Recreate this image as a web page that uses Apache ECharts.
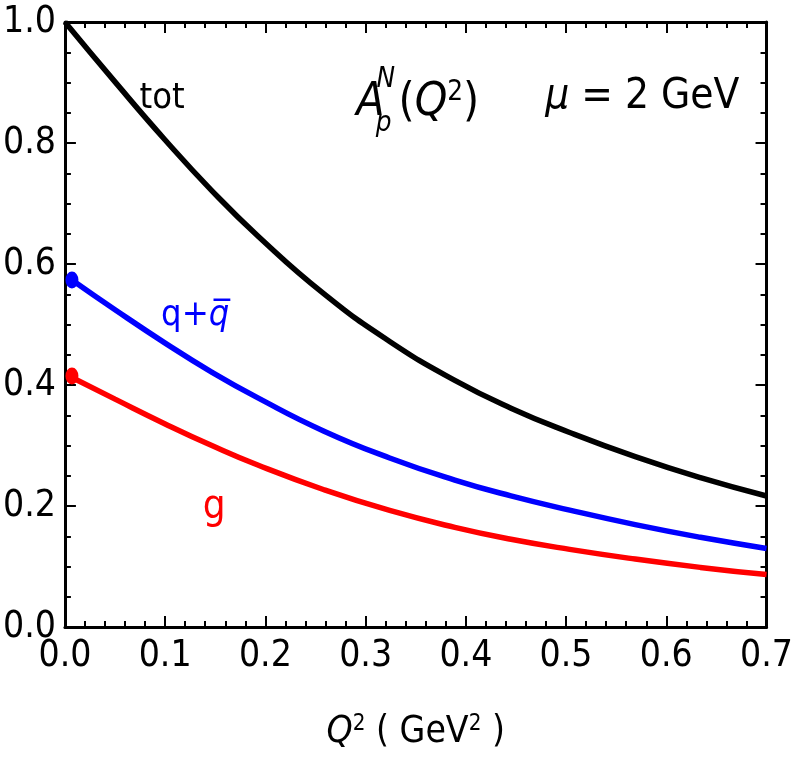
<!DOCTYPE html>
<html><head><meta charset="utf-8">
<script src="https://cdn.jsdelivr.net/npm/echarts@6/dist/echarts.min.js"></script>
<style>html,body{margin:0;padding:0;background:#fff}#c{width:796px;height:763px}</style>
</head><body><div id="c"></div>
<script>
const FONT = "'Liberation Sans Narrow','DejaVu Sans Condensed','Liberation Sans',sans-serif";

// Curves: Q^2 (GeV^2) and A_p^N
const q2Tot   = [0, 0.05, 0.1, 0.146, 0.193, 0.2585, 0.324, 0.389, 0.445, 0.5036, 0.569, 0.634, 0.7];
const aTot    = [1.0, 0.901, 0.805, 0.7222, 0.6456, 0.5506, 0.472, 0.4076, 0.3617, 0.3215, 0.2815, 0.2468, 0.2165];
const q2Quark = [0.007, 0.05, 0.1, 0.146, 0.193, 0.2585, 0.324, 0.389, 0.445, 0.5036, 0.569, 0.634, 0.7];
const aQuark  = [0.5736, 0.5244, 0.4693, 0.4218, 0.3783, 0.3237, 0.2794, 0.2429, 0.2167, 0.1932, 0.1692, 0.1483, 0.1299];
const q2Gluon = [0.007, 0.05, 0.1, 0.146, 0.193, 0.2585, 0.324, 0.389, 0.445, 0.5036, 0.569, 0.634, 0.7];
const aGluon  = [0.4124, 0.3766, 0.3357, 0.3004, 0.2673, 0.2269, 0.1926, 0.1647, 0.145, 0.1283, 0.1123, 0.0985, 0.0866];

// start markers
const startQ2 = 0.007;
const startQuark = 0.5736;
const startGluon = 0.415;

// axis ticks
const xTickLabels = ['0.0','0.1','0.2','0.3','0.4','0.5','0.6','0.7'];
const yTickLabels = ['0.0','0.2','0.4','0.6','0.8','1.0'];

// text annotations (placed in data coordinates)
const noteTot    = [0.097, 0.874];
const noteQuark  = [0.130, 0.515];
const noteGluon  = [0.149, 0.198];
const noteTitle  = [0.352, 0.866];
const noteTitleN = [0.320, 0.904];
const noteTitleP = [0.318, 0.832];
const noteMu     = [0.576, 0.876];

const zip = (a, b) => a.map((v, i) => [v, b[i]]);

const tickStyle = {show: true, inside: true, length: 11, lineStyle: {color: '#000', width: 2}};
const minorStyle = (n) => ({show: true, splitNumber: n, length: 6, lineStyle: {color: '#000', width: 2}});
const lineAx = {show: true, onZero: false, lineStyle: {color: '#000', width: 3}};

const chart = echarts.init(document.getElementById('c'));

function textPoint(pos, text, rich) {
  return {
    type: 'scatter', symbol: 'circle', symbolSize: 1, silent: true, z: 5,
    itemStyle: {color: 'rgba(0,0,0,0)', opacity: 1},
    data: [pos],
    label: {show: true, position: 'inside', align: 'center', verticalAlign: 'middle',
      opacity: 1, formatter: text, rich: rich}
  };
}

const richBase = (size, color) => ({
  n: {fontSize: size, fontFamily: FONT, color: color},
  i: {fontSize: size, fontFamily: FONT, fontStyle: 'italic', color: color},
  s: {fontSize: size * 0.6, fontFamily: FONT, color: color, verticalAlign: 'top', padding: [0,0,size*0.45,0]},
  si: {fontSize: size * 0.6, fontFamily: FONT, fontStyle: 'italic', color: color}
});

const curveOpts = {type: 'line', smooth: 0.5, showSymbol: false, z: 3};

chart.setOption({
  animation: false,
  backgroundColor: '#fff',
  grid: {left: 53, right: 29, top: 22, bottom: 136, containLabel: false},
  xAxis: [{
    type: 'value', min: 0, max: 0.7, interval: 0.1, position: 'bottom',
    axisLine: lineAx, axisTick: tickStyle, minorTick: minorStyle(5),
    splitLine: {show: false},
    axisLabel: {margin: 11, fontSize: 37, fontFamily: FONT, color: '#000',
      formatter: (v) => xTickLabels[Math.round(v * 10)]},
    name: '{i|Q}{s|2}{n| ( GeV}{s|2}{n| )}',
    nameLocation: 'middle', nameGap: 86,
    nameTextStyle: {rich: richBase(37, '#000')}
  }, {
    type: 'value', min: 0, max: 0.7, interval: 0.1, position: 'top',
    axisLine: lineAx, axisTick: tickStyle, minorTick: minorStyle(5),
    splitLine: {show: false}, axisLabel: {show: false}
  }],
  yAxis: [{
    type: 'value', min: 0, max: 1, interval: 0.2, position: 'left',
    axisLine: lineAx, axisTick: tickStyle, minorTick: minorStyle(4),
    splitLine: {show: false},
    axisLabel: {margin: 9, fontSize: 37, fontFamily: FONT, color: '#000',
      formatter: (v) => yTickLabels[Math.round(v * 5)]}
  }, {
    type: 'value', min: 0, max: 1, interval: 0.2, position: 'right',
    axisLine: lineAx, axisTick: tickStyle, minorTick: minorStyle(4),
    splitLine: {show: false}, axisLabel: {show: false}
  }],
  series: [
    Object.assign({data: zip(q2Tot, aTot), lineStyle: {color: '#000', width: 5.5}}, curveOpts),
    Object.assign({data: zip(q2Quark, aQuark), lineStyle: {color: '#0000ff', width: 5.5}}, curveOpts),
    Object.assign({data: zip(q2Gluon, aGluon), lineStyle: {color: '#ff0000', width: 5.5}}, curveOpts),
    {type: 'scatter', data: [[startQ2, startQuark]], symbol: 'circle', symbolSize: [13, 17],
      itemStyle: {color: '#0000ff', opacity: 1}, z: 4},
    {type: 'scatter', data: [[startQ2, startGluon]], symbol: 'circle', symbolSize: [13, 17],
      itemStyle: {color: '#ff0000', opacity: 1}, z: 4},
    textPoint(noteTot, '{n|tot}', richBase(36, '#000')),
    textPoint(noteQuark, '{n|q+}{i|q\u0305}', richBase(36, '#0000ff')),
    textPoint(noteGluon, '{n|g}', richBase(40, '#ff0000')),
    textPoint(noteTitle, '{i|A}{g| }{n|(}{i|Q}{s|2}{n|)}', Object.assign(richBase(46, '#000'), {g: {width: 14, fontSize: 46}})),
    textPoint(noteTitleN, '{si|N}', richBase(46, '#000')),
    textPoint(noteTitleP, '{si|p}', richBase(46, '#000')),
    textPoint(noteMu, '{i|\u03bc}{n| = 2 GeV}', richBase(42, '#000'))
  ]
});
</script></body></html>
